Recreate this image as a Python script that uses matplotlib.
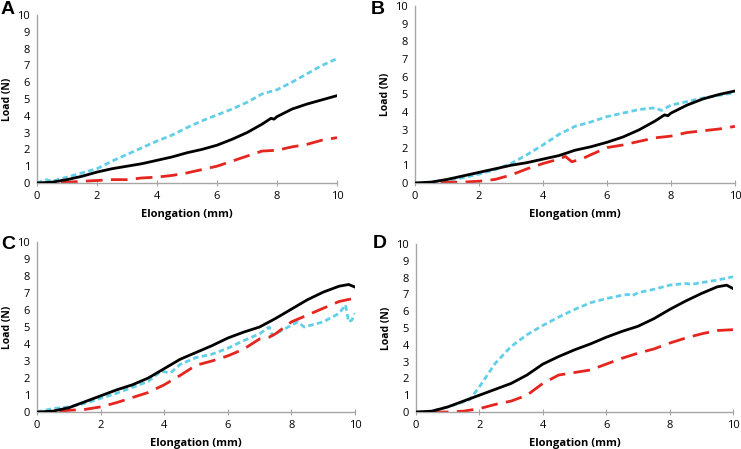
import matplotlib
matplotlib.use("Agg")
import matplotlib.pyplot as plt

plt.rcParams['font.family'] = ['Open Sans', 'DejaVu Sans']

# ---- panel A ----
a_black_x = [0, 0.5, 1, 1.5, 2, 2.5, 3, 3.5, 4, 4.5, 5, 5.5, 6, 6.5, 7, 7.5, 7.8, 7.9, 8, 8.5, 9, 9.5, 10]
a_black_y = [0, 0.05, 0.2, 0.4, 0.65, 0.85, 1.0, 1.15, 1.35, 1.55, 1.8, 2.0, 2.25, 2.6, 3.0, 3.5, 3.85, 3.8, 3.95, 4.4, 4.7, 4.95, 5.2]
a_cyan_x = [0, 0.3, 0.5, 1, 1.5, 2, 2.5, 3, 3.5, 4, 4.5, 5, 5.5, 6, 6.5, 7, 7.5, 8, 8.5, 9, 9.5, 10]
a_cyan_y = [0, 0.2, 0.1, 0.35, 0.6, 0.85, 1.3, 1.7, 2.1, 2.5, 2.85, 3.3, 3.7, 4.05, 4.4, 4.8, 5.3, 5.55, 6.0, 6.5, 7.0, 7.4]
a_red_x = [0.8, 1, 1.5, 2, 2.5, 3, 3.5, 4, 4.5, 5, 5.5, 6, 6.5, 7, 7.5, 8, 8.5, 9, 9.5, 10]
a_red_y = [0.0, 0.05, 0.1, 0.15, 0.2, 0.2, 0.3, 0.35, 0.45, 0.6, 0.8, 1.0, 1.3, 1.6, 1.9, 1.95, 2.15, 2.3, 2.55, 2.7]

# ---- panel B ----
b_black_x = [0, 0.5, 1, 1.5, 2, 2.5, 3, 3.5, 4, 4.5, 5, 5.5, 6, 6.5, 7, 7.5, 7.8, 7.9, 8, 8.5, 9, 9.5, 10]
b_black_y = [0, 0.05, 0.2, 0.4, 0.6, 0.8, 1.0, 1.15, 1.35, 1.55, 1.85, 2.05, 2.3, 2.6, 3.0, 3.5, 3.85, 3.8, 3.95, 4.4, 4.75, 5.0, 5.2]
b_cyan_x = [0, 0.5, 1, 1.5, 2, 2.5, 3, 3.5, 4, 4.5, 5, 5.5, 6, 6.5, 7, 7.5, 7.7, 8, 8.5, 9, 9.5, 10]
b_cyan_y = [0, 0.05, 0.15, 0.3, 0.5, 0.75, 1.1, 1.6, 2.15, 2.75, 3.2, 3.45, 3.75, 3.95, 4.15, 4.25, 4.1, 4.4, 4.6, 4.8, 4.95, 5.1]
b_red_x = [0.8, 1, 1.5, 2, 2.5, 3, 3.5, 4, 4.5, 4.7, 4.9, 5.2, 5.5, 6, 6.5, 7, 7.5, 8, 8.5, 9, 9.5, 10]
b_red_y = [0.0, 0.05, 0.05, 0.1, 0.2, 0.45, 0.8, 1.1, 1.35, 1.5, 1.2, 1.35, 1.6, 2.0, 2.15, 2.35, 2.55, 2.65, 2.85, 2.95, 3.05, 3.2]

# ---- panel C ----
c_black_x = [0, 0.5, 1, 1.5, 2, 2.5, 3, 3.5, 4, 4.5, 5, 5.5, 6, 6.5, 7, 7.5, 8, 8.5, 9, 9.5, 9.8, 10]
c_black_y = [0, 0.05, 0.25, 0.6, 0.95, 1.3, 1.6, 2.0, 2.55, 3.1, 3.5, 3.9, 4.35, 4.7, 5.0, 5.5, 6.05, 6.6, 7.05, 7.4, 7.5, 7.35]
c_cyan_x = [0, 0.5, 1, 1.5, 2, 2.5, 3, 3.5, 3.9, 4.2, 4.5, 5, 5.5, 6, 6.5, 7, 7.3, 7.4, 7.7, 8, 8.2, 8.4, 9, 9.5, 9.7, 9.8, 9.9, 10]
c_cyan_y = [0, 0.2, 0.3, 0.5, 0.8, 1.1, 1.45, 1.8, 2.4, 2.3, 2.8, 3.2, 3.4, 3.75, 4.2, 4.6, 5.0, 4.5, 4.8, 5.1, 5.3, 5.0, 5.3, 5.8, 6.3, 5.3, 5.4, 5.8]
c_red_x = [0.7, 1, 1.5, 2, 2.5, 3, 3.5, 4, 4.5, 5, 5.5, 6, 6.5, 7, 7.3, 7.5, 8, 8.5, 9, 9.5, 10]
c_red_y = [0.0, 0.1, 0.15, 0.3, 0.55, 0.85, 1.15, 1.6, 2.15, 2.75, 3.0, 3.3, 3.7, 4.3, 4.4, 4.6, 5.3, 5.7, 6.1, 6.5, 6.7]

# ---- panel D ----
d_black_x = [0, 0.5, 1, 1.5, 2, 2.5, 3, 3.5, 4, 4.5, 5, 5.5, 6, 6.5, 7, 7.5, 8, 8.5, 9, 9.5, 9.8, 10]
d_black_y = [0, 0.05, 0.3, 0.65, 1.0, 1.35, 1.7, 2.2, 2.85, 3.3, 3.7, 4.05, 4.45, 4.8, 5.1, 5.55, 6.1, 6.6, 7.05, 7.45, 7.55, 7.35]
d_cyan_x = [0, 0.5, 1, 1.5, 1.7, 2, 2.5, 3, 3.5, 4, 4.5, 5, 5.5, 6, 6.5, 6.7, 6.8, 7, 7.5, 8, 8.5, 8.7, 9, 9.5, 10]
d_cyan_y = [0, 0.05, 0.3, 0.6, 0.75, 1.5, 2.9, 3.9, 4.6, 5.15, 5.65, 6.1, 6.5, 6.75, 6.95, 7.0, 6.9, 7.1, 7.3, 7.55, 7.65, 7.6, 7.7, 7.85, 8.05]
d_red_x = [0.5, 1, 1.5, 2, 2.5, 3, 3.5, 4, 4.5, 5, 5.5, 6, 6.5, 7, 7.5, 8, 8.5, 9, 9.5, 10]
d_red_y = [0.0, 0.0, 0.05, 0.2, 0.45, 0.65, 1.0, 1.7, 2.2, 2.35, 2.5, 2.85, 3.2, 3.5, 3.75, 4.1, 4.4, 4.65, 4.85, 4.9]

panels = {
    "A": (a_black_x, a_black_y, a_cyan_x, a_cyan_y, a_red_x, a_red_y),
    "B": (b_black_x, b_black_y, b_cyan_x, b_cyan_y, b_red_x, b_red_y),
    "C": (c_black_x, c_black_y, c_cyan_x, c_cyan_y, c_red_x, c_red_y),
    "D": (d_black_x, d_black_y, d_cyan_x, d_cyan_y, d_red_x, d_red_y),
}

W, H = 741, 449
# pixel boxes: left, top, right, bottom
boxes = {
    "A": (37, 15, 337, 183),
    "B": (415, 6, 735, 183),
    "C": (37, 242, 355, 412),
    "D": (416, 244, 733, 412),
}
# panel letter positions (pixels, left / vertical centre)
letter_pos = {"A": (1, 9), "B": (371, 9), "C": (1, 245), "D": (373, 244)}

CYAN = "#62cfe9"
RED = "#e5261f"
AXIS = "#a6a6a6"

fig = plt.figure(figsize=(W / 100, H / 100), dpi=100)

for name, (bx, by, cx, cy, rx, ry) in panels.items():
    l, t, r, b = boxes[name]
    ax = fig.add_axes([l / W, 1 - b / H, (r - l) / W, (b - t) / H])
    ax.plot(cx, cy, color=CYAN, lw=2.0, dashes=(2.0, 1.2), zorder=2)
    ax.plot(rx, ry, color=RED, lw=2.0, dashes=(6, 3), zorder=2)
    ax.plot(bx, by, color="black", lw=2.0, zorder=3)
    ax.set_xlim(0, 10)
    ax.set_ylim(0, 10)
    ax.set_xticks(range(0, 11, 2))
    ax.set_yticks(range(0, 11))
    for s in ("top", "right"):
        ax.spines[s].set_visible(False)
    for s in ("left", "bottom"):
        ax.spines[s].set_color(AXIS)
        ax.spines[s].set_linewidth(1.0)
    ax.tick_params(axis="x", direction="inout", length=4, color=AXIS, labelsize=8, pad=4)
    ax.tick_params(axis="y", length=0, labelsize=8, pad=5)
    ax.set_xlabel("Elongation (mm)", fontsize=8, fontweight="bold", labelpad=5)
    ax.set_ylabel("Load (N)", fontsize=7.5, fontweight="bold", labelpad=3)
    px, py = letter_pos[name]
    fig.text(px / W, 1 - py / H, name, fontsize=14, fontweight="bold",
             family="Liberation Sans", ha="left", va="center")

fig.savefig("out.png", dpi=100)
